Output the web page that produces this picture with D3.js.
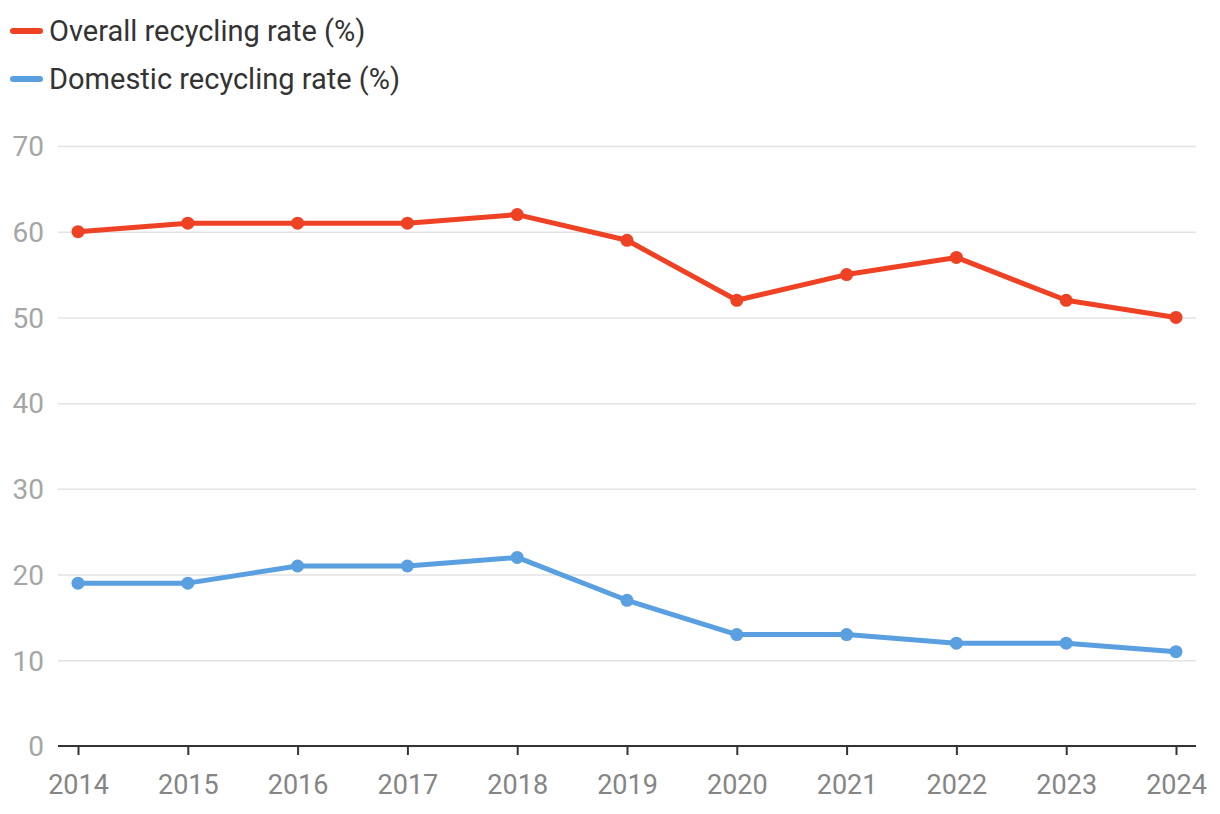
<!DOCTYPE html>
<html>
<head>
<meta charset="utf-8">
<script src="https://cdn.jsdelivr.net/npm/d3@7"></script>
<style>
  body { margin: 0; background: #fff; }
  text { font-family: Roboto, "Noto Sans", sans-serif; }
</style>
</head>
<body>
<script>
let years = [2014, 2015, 2016, 2017, 2018, 2019, 2020, 2021, 2022, 2023, 2024]
let overall = [60, 61, 61, 61, 62, 59, 52, 55, 57, 52, 50]
let domestic = [19, 19, 21, 21, 22, 17, 13, 13, 12, 12, 11]
let yTicks = [0, 10, 20, 30, 40, 50, 60, 70]

let series = [
  { name: 'Overall recycling rate (%)', values: overall, color: '#ef4123' },
  { name: 'Domestic recycling rate (%)', values: domestic, color: '#5a9fe0' }
]

let width = 1220
let height = 814
let margin = { left: 58, right: 24, top: 146, bottom: 68 }

let svg = d3.select('body')
  .append('svg')
  .attr('width', width)
  .attr('height', height)

let x = d3.scalePoint()
  .domain(years)
  .range([78, 1176])

let y = d3.scaleLinear()
  .domain([0, 70])
  .range([height - margin.bottom, margin.top])

// gridlines + y labels
let yAxis = d3.axisLeft(y)
  .tickValues(yTicks)
  .tickSize(-(width - margin.right - margin.left))
  .tickPadding(14)

svg.append('g')
  .attr('transform', `translate(${margin.left},0)`)
  .call(yAxis)
  .call(g => g.select('.domain').remove())
  .call(g => g.selectAll('.tick line').attr('stroke', '#e3e3e3').attr('stroke-width', 1.5))
  .call(g => g.selectAll('.tick text')
    .attr('fill', '#a6a6a6')
    .attr('font-size', 28)
    .attr('dy', '0.35em'))

// x axis
let xAxis = d3.axisBottom(x)
  .tickSize(9)
  .tickPadding(16)

svg.append('g')
  .attr('transform', `translate(0,${y(0)})`)
  .call(xAxis)
  .call(g => g.select('.domain')
    .attr('d', `M${margin.left},0H${width - margin.right}`)
    .attr('stroke', '#333')
    .attr('stroke-width', 2))
  .call(g => g.selectAll('.tick line').attr('stroke', '#333').attr('stroke-width', 2))
  .call(g => g.selectAll('.tick text')
    .attr('fill', '#858585')
    .attr('font-size', 27)
    .attr('dy', '0.85em'))

let line = d3.line()
  .x((d, i) => x(years[i]))
  .y(d => y(d))

series.forEach(s => {
  svg.append('path')
    .datum(s.values)
    .attr('fill', 'none')
    .attr('stroke', s.color)
    .attr('stroke-width', 5)
    .attr('stroke-linejoin', 'round')
    .attr('d', line)

  svg.append('g')
    .selectAll('circle')
    .data(s.values)
    .join('circle')
      .attr('cx', (d, i) => x(years[i]))
      .attr('cy', d => y(d))
      .attr('r', 6.5)
      .attr('fill', s.color)
})

// legend
let legend = svg.append('g')
  .selectAll('g')
  .data(series)
  .join('g')
    .attr('transform', (d, i) => `translate(0,${31 + i * 48})`)

legend.append('line')
  .attr('x1', 13)
  .attr('x2', 40)
  .attr('stroke', d => d.color)
  .attr('stroke-width', 6)
  .attr('stroke-linecap', 'round')

legend.append('text')
  .attr('x', 49)
  .attr('dy', '0.35em')
  .attr('fill', '#333')
  .attr('font-size', 29)
  .text(d => d.name)
</script>
</body>
</html>
